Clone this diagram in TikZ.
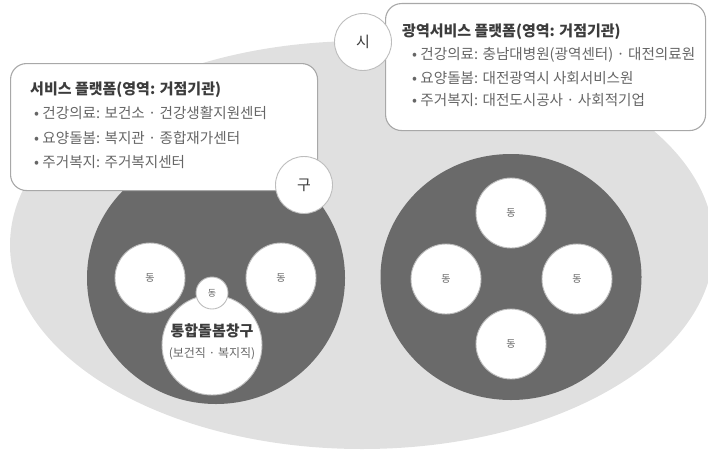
\documentclass[tikz,border=0pt]{standalone}
\usepackage{fontspec}
\setmainfont{Noto Sans CJK KR}
\usetikzlibrary{shapes.geometric}
\definecolor{bgell}{HTML}{E0E0E0}
\definecolor{darkc}{HTML}{6A6A6A}
\definecolor{rimc}{HTML}{BDBDBD}
\definecolor{boxrim}{HTML}{A8A8A8}
\definecolor{titc}{HTML}{3C3C3C}
\definecolor{bulc}{HTML}{666666}
\begin{document}
\begin{tikzpicture}[x=1pt,y=-1pt,
  whitec/.style={circle,fill=white,draw=rimc,line width=0.9pt,inner sep=0pt},
  dongc/.style={whitec,minimum size=70pt,font=\fontsize{10}{10}\selectfont,text=bulc},
  areac/.style={ellipse,fill=darkc,inner sep=0pt},
  infobox/.style={draw=boxrim,line width=1.1pt,fill=white,rounded corners=16pt,anchor=north west},
  boxtitle/.style={anchor=west,inner sep=0pt,font=\fontsize{15}{15}\selectfont\bfseries,text=titc},
  boxitem/.style={anchor=west,inner sep=0pt,font=\fontsize{14.6}{14.6}\selectfont,text=bulc},
  tagc/.style={whitec,minimum size=57pt,font=\fontsize{15}{15}\selectfont,text=titc}]
\useasboundingbox (0,0) rectangle (708,452);
\begin{scope}
\clip (0,0) rectangle (708,452);
\node[ellipse,fill=bgell,minimum width=704pt,minimum height=408pt,inner sep=0pt] (city) at (362,245) {};
\end{scope}
% district areas
\node[areac,minimum width=258pt,minimum height=252pt] (guarea) at (216,278) {};
\node[areac,minimum width=261pt,minimum height=246pt] (rarea) at (511,277) {};
% left district
\node[dongc] (d1) at (150,278) {동};
\node[dongc] (d2) at (281,278) {동};
\node[whitec,minimum size=100pt] (hub) at (212,345) {};
\node[inner sep=0pt,font=\fontsize{15}{15}\selectfont\bfseries,text=titc] (hubt) at (212,331) {통합돌봄창구};
\node[inner sep=0pt,font=\fontsize{12}{12}\selectfont,text=bulc] (hubs) at (212,354) {(보건직 · 복지직)};
\node[whitec,minimum size=32pt,font=\fontsize{9}{9}\selectfont,text=bulc] (d3) at (212,293) {동};
% right district
\node[dongc] (r1) at (511,213) {동};
\node[dongc] (r2) at (446,279) {동};
\node[dongc] (r3) at (577,279) {동};
\node[dongc] (r4) at (511,344) {동};
% left info box
\node[infobox,minimum width=307pt,minimum height=127pt] (gubox) at (10,63) {};
\node[boxtitle] (gut) at (30,90) {서비스 플랫폼(영역: 거점기관)};
\node[boxitem] (gu1) at (34,113) {• 건강의료: 보건소 · 건강생활지원센터};
\node[boxitem] (gu2) at (34,138) {• 요양돌봄: 복지관 · 종합재가센터};
\node[boxitem] (gu3) at (34,162) {• 주거복지: 주거복지센터};
% right info box
\node[infobox,minimum width=320pt,minimum height=127pt] (sibox) at (385,3) {};
\node[boxtitle] (sit) at (402,32) {광역서비스 플랫폼(영역: 거점기관)};
\node[boxitem] (si1) at (412,55) {• 건강의료: 충남대병원(광역센터) · 대전의료원};
\node[boxitem] (si2) at (412,78) {• 요양돌봄: 대전광역시 사회서비스원};
\node[boxitem] (si3) at (412,100) {• 주거복지: 대전도시공사 · 사회적기업};
% tags
\node[tagc] (gu) at (304,185) {구};
\node[tagc] (si) at (363,42) {시};
\end{tikzpicture}
\end{document}
